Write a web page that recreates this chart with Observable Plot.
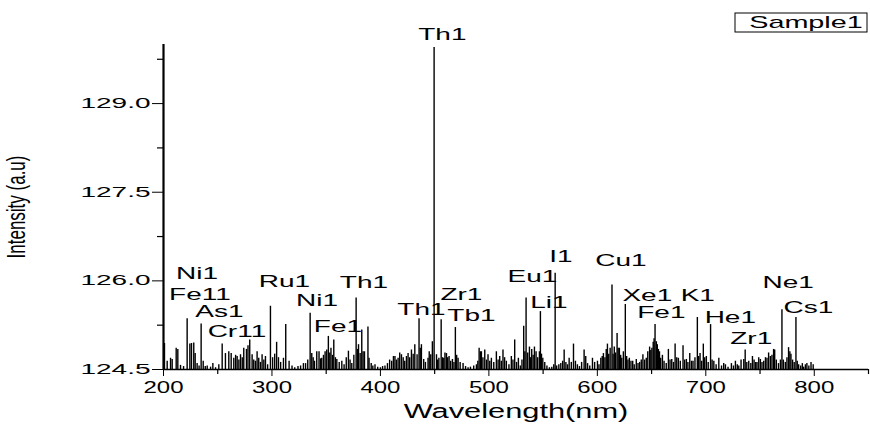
<!DOCTYPE html>
<html><head><meta charset="utf-8">
<script src="https://cdn.jsdelivr.net/npm/d3@7"></script>
<script src="https://cdn.jsdelivr.net/npm/@observablehq/plot@0.6"></script>
<style>body{margin:0;background:#fff}#chart{width:870px;height:424px}</style>
</head><body><div id="chart"></div>
<script>
const seriesName = "Sample1";
const xTitle = "Wavelength(nm)";
const yTitle = "Intensity (a.u)";
const wavelengths = [
200.9,203.4,206.5,208.0,211.7,213.2,215.7,218.5,221.8,224.3,225.8,227.9,229.2,231.0,232.8,234.7,236.6,238.5,240.3,243.4,245.5,248.0,251.0,254.1,257.1,260.2,262.4,264.8,266.5,267.9,269.5,271.0,272.6,274.0,276.5,277.9,279.5,281.7,283.2,284.8,286.3,287.8,289.4,290.9,292.5,294.0,296.0,298.6,300.6,302.5,304.3,306.0,308.0,310.6,312.7,315.8,318.5,321.0,324.0,326.4,329.0,331.0,333.0,335.2,336.7,338.0,339.2,341.3,343.4,344.8,345.9,347.5,349.0,350.5,352.0,353.3,354.4,355.8,357.0,358.5,359.8,362.0,364.4,366.5,368.5,370.5,372.0,373.6,375.5,377.6,378.8,379.8,381.3,382.8,384.0,385.3,388.5,389.5,391.5,393.0,395.0,397.5,400.0,402.0,404.2,406.5,408.5,410.4,412.0,413.4,414.8,416.3,417.8,419.4,421.0,422.4,424.0,425.5,427.0,428.6,430.2,431.7,433.8,435.6,436.7,437.8,439.9,441.5,443.9,445.0,446.4,447.9,449.5,451.7,452.8,453.9,456.0,457.2,458.4,459.5,460.9,462.0,463.3,464.8,466.4,467.8,469.1,470.3,471.6,473.5,476.2,478.5,480.8,483.0,486.0,488.5,489.8,491.0,492.2,493.1,494.5,496.2,497.8,499.2,500.8,502.3,504.5,506.9,508.5,510.0,511.5,513.0,514.5,516.1,518.5,520.7,522.2,523.8,525.5,527.2,529.0,530.5,532.1,533.2,534.3,535.8,537.4,538.5,539.5,540.8,542.0,543.5,545.0,546.6,547.5,548.5,549.7,551.5,553.5,555.8,558.0,559.8,561.1,562.5,564.5,566.3,568.0,569.4,571.0,572.5,574.0,576.0,578.0,579.8,581.6,583.5,585.5,587.8,589.3,591.0,593.0,595.5,597.5,600.1,601.5,603.2,604.5,605.6,607.0,608.2,609.3,610.5,611.8,613.5,614.5,615.6,616.8,618.2,619.2,620.3,621.5,622.5,624.0,625.8,627.0,628.2,629.5,631.0,632.6,634.0,635.9,637.5,639.0,640.5,642.0,643.5,645.1,646.5,648.2,649.3,650.3,651.5,652.3,653.2,654.4,655.3,656.3,657.3,658.4,660.0,661.5,663.5,665.5,667.0,668.6,670.2,671.7,673.2,674.7,676.5,679.0,680.5,682.1,683.5,685.2,686.8,688.2,690.0,692.2,693.4,694.7,696.2,697.7,699.0,700.5,702.2,704.4,705.8,707.4,709.5,712.0,714.5,716.5,718.1,720.5,723.6,725.5,727.3,729.0,730.4,732.5,735.0,736.3,737.8,739.6,741.5,743.0,744.5,746.0,747.2,748.8,750.3,751.8,753.4,755.0,756.4,757.9,759.5,761.0,762.5,763.5,765.0,767.0,768.8,770.2,771.5,773.3,774.8,776.3,777.5,778.5,780.0,781.5,783.1,784.3,785.6,787.5,789.0,790.2,791.8,793.2,795.0,797.0,799.0];
const intensities = [
124.94,124.64,124.69,124.67,124.86,124.84,124.57,124.55,125.36,124.93,124.94,124.95,124.77,124.60,124.56,125.27,124.64,124.55,124.56,124.54,124.60,124.53,124.58,124.93,124.77,124.80,124.77,124.69,124.74,124.72,124.66,124.75,124.70,124.86,124.84,124.90,125.00,124.75,124.66,124.64,124.80,124.69,124.62,124.75,124.66,124.72,124.58,125.57,124.70,124.76,124.96,124.70,124.62,124.69,125.26,124.64,124.56,124.53,124.55,124.56,124.60,124.60,124.66,125.45,124.77,124.70,124.64,124.80,124.80,124.68,124.69,124.74,124.80,124.83,125.06,124.78,124.86,124.74,125.00,124.70,124.67,124.62,124.64,124.58,124.70,124.81,124.66,124.60,124.74,125.71,124.84,124.92,124.77,125.17,124.80,124.80,125.22,124.69,124.60,124.56,124.58,124.54,124.53,124.55,124.56,124.60,124.66,124.64,124.72,124.72,124.66,124.69,124.78,124.75,124.70,124.64,124.72,124.77,124.70,124.83,124.76,124.92,124.75,125.36,124.86,124.92,124.67,124.62,124.69,124.80,124.75,124.97,129.95,124.75,124.66,124.69,125.34,124.70,124.69,124.78,124.77,124.70,124.72,124.64,124.67,124.62,125.21,124.74,124.69,124.62,124.60,124.55,124.53,124.54,124.56,124.58,124.64,124.86,124.80,124.80,124.70,124.83,124.66,124.75,124.64,124.69,124.62,124.80,124.66,124.72,124.64,124.83,124.70,124.64,124.58,124.72,124.66,125.00,124.62,124.69,124.56,124.66,125.23,124.80,125.71,124.78,124.88,124.70,124.84,124.74,124.88,124.80,124.70,124.80,125.48,124.76,124.69,124.62,124.56,124.53,124.54,124.58,126.13,124.56,124.58,124.60,124.64,124.83,124.62,124.58,124.69,124.62,124.93,124.64,124.58,124.55,124.62,124.83,124.72,124.60,124.56,124.69,124.62,124.64,124.58,124.69,124.72,124.77,124.70,124.84,124.93,124.76,124.86,125.93,124.76,124.88,124.78,125.11,124.86,124.86,124.74,124.69,124.80,125.60,124.72,124.66,124.69,124.64,124.64,124.58,124.67,124.60,124.62,124.66,124.75,124.66,124.69,124.80,124.88,124.82,124.86,124.96,125.02,125.26,124.97,124.92,124.84,124.80,124.69,124.74,124.64,124.60,124.84,124.66,124.67,124.62,124.93,124.70,124.69,124.64,124.90,124.66,124.67,124.62,124.77,124.64,124.64,124.70,125.38,124.72,124.77,124.64,124.93,124.70,124.72,124.62,125.26,124.66,124.64,124.58,124.69,124.56,124.60,124.58,124.54,124.60,124.56,124.64,124.58,124.56,124.66,124.67,124.83,124.62,124.64,124.60,124.72,124.66,124.62,124.62,124.70,124.67,124.62,124.64,124.70,124.69,124.78,124.72,124.74,124.84,124.83,124.66,124.60,124.66,125.51,124.66,124.62,124.70,124.87,124.80,124.76,124.66,124.62,125.38,124.64,124.58,124.56,124.60,124.54,124.58,124.60,124.56,124.62,124.58];
const peakNames = ["Th1","Ni1","Fe11","As1","Cr11","Ru1","Ni1","Fe1","Th1","Th1","Zr1","Tb1","Eu1","Li1","I1","Cu1","Xe1","K1","Fe1","He1","Zr1","Ne1","Cs1"];
const peakLabelX = [457.1,230.9,233.6,251.5,267.7,311.5,341.5,360.8,384.8,437.8,474.7,483.9,540.1,555.3,566.4,621.7,646.1,692.6,659.0,722.6,741.9,776.0,794.5];
const peakLabelY = [130.17,126.12,125.76,125.47,125.14,125.99,125.66,125.22,125.96,125.51,125.76,125.41,126.06,125.63,126.41,126.33,125.74,125.75,125.45,125.37,125.02,125.97,125.55];
const xTicks = [200,300,400,500,600,700,800];
const xMinorTicks = [250,350,450,550,650,750,850];
const yTicks = [124.5,126.0,127.5,129.0];
const yMinorTicks = [125.25,126.75,128.25,129.75];

const spectrum = wavelengths.map((w, i) => ({w, v: intensities[i]}));
const peaks = peakNames.map((n, i) => ({n, x: peakLabelX[i], y: peakLabelY[i]}));
const yBase = yTicks[0];

const plot = Plot.plot({
  width: 870, height: 424,
  marginLeft: 163, marginRight: 2, marginTop: 44, marginBottom: 55,
  style: {fontFamily: "'Liberation Sans', Arial, sans-serif", fontSize: "14px", color: "#000", background: "#fff", overflow: "visible"},
  x: {domain: [200, 850], ticks: xTicks, tickSize: 7, tickPadding: 5, tickFormat: d => String(d), label: null},
  y: {domain: [124.5, 130], ticks: yTicks, tickSize: 11, tickPadding: 2, tickFormat: d => d.toFixed(1), label: null},
  marks: [
    Plot.ruleX(spectrum, {x: "w", y1: yBase, y2: "v", stroke: "#000", strokeWidth: 1.4}),
    Plot.ruleX(xMinorTicks, {x: d => d, y1: yBase, y2: yBase - 5 / 59.1, stroke: "#000", strokeWidth: 1.2}),
    Plot.ruleY(yMinorTicks, {y: d => d, x1: 200 - 6 / 1.085, x2: 200, stroke: "#000", strokeWidth: 1.2}),
    Plot.ruleY([yBase], {x1: 200, x2: 850, stroke: "#000", strokeWidth: 1.5}),
    Plot.ruleX([200], {y1: yBase, y2: 130, stroke: "#000", strokeWidth: 2.2}),
    Plot.text(peaks, {x: "x", y: "y", text: "n", fontSize: 16, fill: "#000", textAnchor: "middle", lineAnchor: "middle"}),
    Plot.text([xTitle], {frameAnchor: "bottom", dy: 42, text: d => d, fontSize: 20, fill: "#000", textAnchor: "middle", lineAnchor: "middle"}),
    Plot.text([yTitle], {frameAnchor: "left", dx: -147, text: d => d, rotate: -90, fontSize: 17, fill: "#000", textAnchor: "middle", lineAnchor: "middle"})
  ]
});
document.getElementById("chart").appendChild(plot);

// legend box
const svg = d3.select(plot);
const lg = svg.append("g").attr("aria-label", "legend");
lg.append("rect").attr("x", 735).attr("y", 13).attr("width", 132).attr("height", 19)
  .attr("fill", "none").attr("stroke", "#000").attr("stroke-width", 1);
lg.append("text").attr("x", 806).attr("y", 28).attr("text-anchor", "middle")
  .style("font-size", "16px").attr("fill", "#000").text(seriesName);

// horizontally stretched text, as in the reference
plot.querySelectorAll("text").forEach(t => {
  const s = t.textContent;
  const tr = t.getAttribute("transform") || "";
  let sx = 1.75;
  if (t.closest('[aria-label^="y-axis"]')) { sx = 2.0; t.style.fontSize = "14px"; }
  else if (t.closest('[aria-label^="x-axis"]')) { sx = 1.5; t.style.fontSize = "16px"; }
  else if (s === xTitle) sx = 1.54;
  else if (s === seriesName) sx = 1.8;
  else if (s === yTitle) { t.setAttribute("transform", tr + " scale(1,1.5)"); return; }
  const ax = parseFloat(t.getAttribute("x")) || 0;
  t.setAttribute("transform", (tr + ` translate(${ax},0) scale(${sx},1) translate(${-ax},0)`).trim());
});
</script>
</body></html>
